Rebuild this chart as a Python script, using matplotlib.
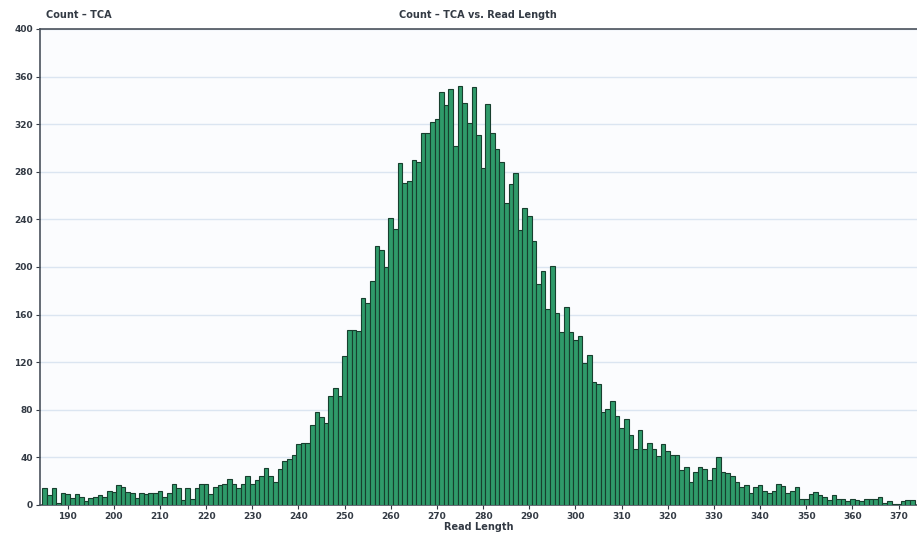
import numpy as np
import matplotlib.pyplot as plt

# read length bins (one bar per base) and counts
read_length = np.arange(185, 374)
count_tca = [
    14, 8, 14, 2, 10, 9, 6, 9, 7, 3,            # 185-194
    6, 7, 8, 7, 12, 11, 17, 15, 11, 10,         # 195-204
    6, 10, 9, 10, 10, 12, 7, 10, 18, 14,        # 205-214
    4, 14, 5, 14, 18, 18, 9, 15, 17, 18,        # 215-224
    22, 18, 14, 18, 24, 18, 21, 24, 31, 24,     # 225-234
    19, 30, 37, 39, 42, 51, 52, 52, 67, 78,     # 235-244
    74, 69, 92, 98, 92, 125, 147, 147, 146, 174,  # 245-254
    170, 188, 218, 214, 200, 241, 232, 287, 271, 272,  # 255-264
    290, 288, 313, 313, 322, 324, 347, 336, 350, 302,  # 265-274
    352, 338, 321, 351, 311, 283, 337, 313, 299, 288,  # 275-284
    254, 270, 279, 231, 250, 243, 222, 186, 197, 165,  # 285-294
    201, 161, 145, 166, 145, 139, 142, 119, 126, 103,  # 295-304
    102, 78, 81, 87, 75, 65, 72, 59, 47, 63,    # 305-314
    47, 52, 47, 41, 51, 45, 42, 42, 29, 32,     # 315-324
    19, 28, 32, 30, 21, 31, 40, 28, 27, 24,     # 325-334
    19, 15, 17, 10, 15, 17, 12, 10, 12, 18,     # 335-344
    16, 10, 12, 15, 5, 5, 9, 11, 8, 7,          # 345-354
    4, 8, 5, 5, 3, 5, 4, 3, 5, 5,               # 355-364
    5, 7, 2, 3, 1, 0.5, 3, 4, 4,                # 365-373
]

x_ticks = np.arange(190, 371, 10)
y_ticks = np.arange(0, 401, 40)

fig = plt.figure(figsize=(9.17, 5.38), dpi=100)
fig.patch.set_facecolor('white')
ax = fig.add_axes([40 / 917, 33 / 538, 877 / 917, 476 / 538])
ax.set_facecolor('#fbfcfe')

ax.bar(read_length, count_tca, width=1.0, color='#2f9a6a',
       edgecolor='#173f2e', linewidth=0.8, zorder=3)

ax.set_xlim(184.0, 374.0)
ax.set_ylim(0, 400)
ax.set_xticks(x_ticks)
ax.set_yticks(y_ticks)
ax.yaxis.grid(True, color='#dbe5f1', linewidth=1.0, zorder=0)
ax.tick_params(axis='both', labelsize=6.5, colors='#333a44', length=3,
               width=0.8, pad=2)
for lab in ax.get_xticklabels() + ax.get_yticklabels():
    lab.set_fontweight('bold')

for side in ['left', 'top', 'bottom']:
    ax.spines[side].set_color('#4a525c')
    ax.spines[side].set_linewidth(1.2)
ax.spines['right'].set_visible(False)

ax.set_xlabel('Read Length', fontsize=7, fontweight='bold', color='#333a44',
              labelpad=1)
fig.text(46 / 917, 1 - 15 / 538, 'Count \u2013 TCA', fontsize=7,
         fontweight='bold', color='#333a44', va='center', ha='left')
fig.text(478 / 917, 1 - 15 / 538, 'Count \u2013 TCA vs. Read Length',
         fontsize=7, fontweight='bold', color='#333a44', va='center',
         ha='center')

fig.savefig('out.png', dpi=100)
